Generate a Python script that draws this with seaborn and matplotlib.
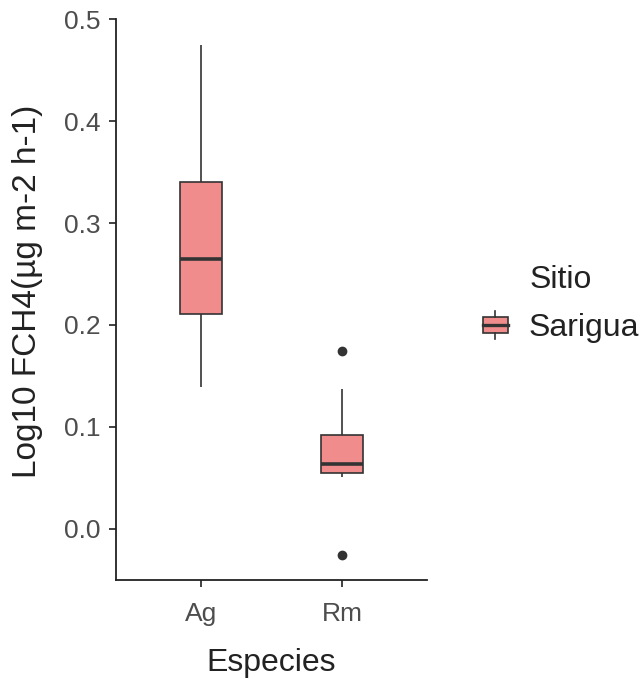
import matplotlib
matplotlib.use("Agg")
import matplotlib.pyplot as plt
import seaborn as sns
import pandas as pd
from matplotlib.legend_handler import HandlerBase
from matplotlib.patches import Rectangle
from matplotlib.lines import Line2D

# Log10 methane flux measurements per species, site Sarigua
ag_values = [0.139, 0.180, 0.211, 0.240, 0.265, 0.300, 0.340, 0.400, 0.475]
rm_values = [-0.0254, 0.051, 0.0548, 0.060, 0.0636, 0.075, 0.092, 0.137, 0.1745]
species = ["Ag", "Rm"]
site = "Sarigua"
y_ticks = [0.0, 0.1, 0.2, 0.3, 0.4, 0.5]

df = pd.DataFrame({
    "Especies": [species[0]] * len(ag_values) + [species[1]] * len(rm_values),
    "FCH4": ag_values + rm_values,
})
df["Sitio"] = site

FILL = "#F08C8C"
EDGE = "#333333"
TICK_COL = "#4D4D4D"
plt.rcParams["font.family"] = ["Liberation Sans", "DejaVu Sans"]

fig = plt.figure(figsize=(6.41, 6.79), dpi=100)
W, H = 641, 679
ax = fig.add_axes([116 / W, 1 - 580 / H, (427 - 116) / W, (580 - 19) / H])

sns.boxplot(
    data=df, x="Especies", y="FCH4", hue="Sitio", ax=ax,
    palette={site: FILL}, saturation=1, width=0.3, linecolor=EDGE, linewidth=1.2,
    fliersize=6, whis=1.5, legend=False,
    flierprops={"marker": "o", "markerfacecolor": EDGE, "markeredgecolor": EDGE},
    medianprops={"linewidth": 2.6, "color": EDGE},
    capprops={"visible": False},
)

ax.set_xlim(-0.6, 1.6)
ax.set_ylim(-0.0504, 0.5004)
ax.set_yticks(y_ticks)
ax.set_yticklabels([f"{v:.1f}" for v in y_ticks])

for s in ["top", "right"]:
    ax.spines[s].set_visible(False)
for s in ["left", "bottom"]:
    ax.spines[s].set_color("#222222")
    ax.spines[s].set_linewidth(1.3)
ax.tick_params(axis="both", colors="#333333", width=1.3, length=5,
               labelcolor=TICK_COL)
ax.tick_params(axis="y", labelsize=19, pad=6)
ax.tick_params(axis="x", labelsize=19, pad=11)

ax.set_xlabel("Especies", fontsize=23, color="#222222", labelpad=16)
ax.set_ylabel("Log10 FCH4(µg m-2 h-1)", fontsize=24, color="#222222")
ax.yaxis.set_label_coords(-0.235, 0.515)


class BoxKeyHandler(HandlerBase):
    def create_artists(self, legend, orig_handle, xdescent, ydescent,
                       width, height, fontsize, trans):
        x0, y0 = -xdescent, -ydescent
        cx = x0 + width / 2
        box = Rectangle((x0, y0 + height * 0.2), width, height * 0.6,
                        facecolor=FILL, edgecolor=EDGE, linewidth=1.2,
                        transform=trans)
        med = Line2D([x0, x0 + width], [y0 + height / 2] * 2, color=EDGE,
                     linewidth=2.4, transform=trans)
        wt = Line2D([cx, cx], [y0 + height * 0.8, y0 + height],
                    color=EDGE, linewidth=1.2, transform=trans)
        wb = Line2D([cx, cx], [y0, y0 + height * 0.2],
                    color=EDGE, linewidth=1.2, transform=trans)
        return [box, med, wt, wb]


handle = Rectangle((0, 0), 1, 1, facecolor=FILL, edgecolor=EDGE)
leg = fig.legend([handle], [site], title="Sitio", handler_map={Rectangle: BoxKeyHandler()},
                 loc="center left", bbox_to_anchor=(473 / W, 1 - 304 / H),
                 frameon=False, fontsize=23, title_fontsize=23,
                 handlelength=0.78, handleheight=0.95, handletextpad=0.65,
                 borderaxespad=0, borderpad=0.3)
leg.get_title().set_color("#222222")
for t in leg.get_texts():
    t.set_color("#222222")

fig.savefig("out.png", dpi=100)
